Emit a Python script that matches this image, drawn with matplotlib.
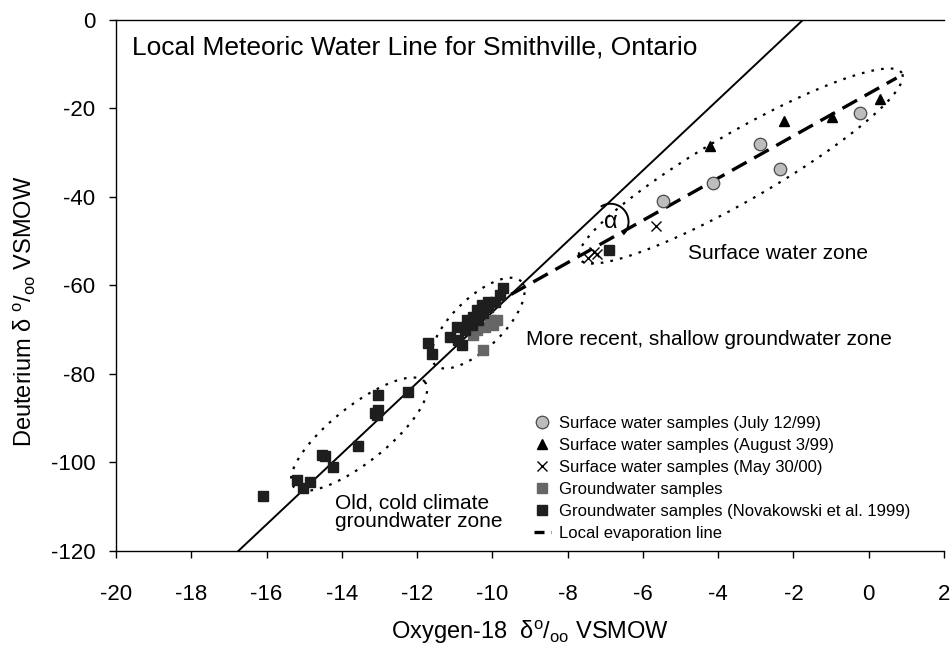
import numpy as np
import matplotlib
matplotlib.use("Agg")
from matplotlib import pyplot as plt

plt.rcParams['font.family'] = ['Liberation Sans', 'DejaVu Sans']
plt.rcParams['mathtext.fontset'] = 'custom'
plt.rcParams['mathtext.rm'] = 'Liberation Sans'
plt.rcParams['mathtext.it'] = 'Liberation Sans'
plt.rcParams['axes.unicode_minus'] = False

# surface water samples (July 12/99)
july_o18 = [-5.47, -4.14, -2.90, -2.36, -0.24]
july_d = [-40.9, -36.8, -28.0, -33.7, -21.0]

# surface water samples (August 3/99)
aug_o18 = [-4.22, -2.26, -0.98, 0.29]
aug_d = [-28.5, -22.8, -21.9, -17.9]

# surface water samples (May 30/00)
may_o18 = [-5.66, -7.22, -7.46, -7.30]
may_d = [-46.5, -52.8, -53.8, -52.4]

# groundwater samples
gw_o18 = [-10.07, -9.88, -10.20, -10.41, -10.52, -10.25, -9.99]
gw_d = [-67.8, -67.8, -69.4, -70.1, -71.2, -74.6, -68.9]

# groundwater samples (Novakowski et al. 1999)
nov_o18 = [-9.72, -9.80, -9.93, -10.12, -10.28, -10.41, -10.25, -10.52, -10.68,
           -10.54, -10.94, -10.73, -11.13, -10.92, -10.81, -11.71, -11.61, -10.12,
           -10.39, -6.90,
           -13.04, -12.24, -13.12, -13.04, -13.07, -13.57, -14.53, -14.45, -14.24,
           -15.19, -14.85, -15.03, -16.10]
nov_d = [-60.6, -62.1, -63.7, -63.7, -64.4, -65.5, -66.2, -67.1, -67.8,
         -68.9, -69.4, -70.1, -71.6, -72.3, -73.4, -73.0, -75.5, -64.9,
         -67.8, -52.0,
         -84.7, -84.1, -88.8, -88.1, -89.3, -96.3, -98.3, -98.6, -101.0,
         -104.0, -104.4, -105.8, -107.6]

# local meteoric water line (dD = slope * d18O + intercept)
lmwl_slope = 8.0
lmwl_intercept = 14.0
lmwl_o18 = [-18.0, 0.0]

# local evaporation line
lel_o18 = [-9.5, 0.74]
lel_d = [-62.0, -13.1]

# dotted zones: centre (o18, dD), semi axes in px, angle deg
zones = [((-3.40, -33.0), 186, 34, 30),
         ((-10.38, -68.5), 60, 25, 44),
         ((-13.54, -93.6), 84, 28, 38.5)]

fig = plt.figure(figsize=(9.53, 6.5), dpi=100)
ax = fig.add_axes([116 / 953, 99 / 650, 828 / 953, 531 / 650])
ax.set_xlim(-20, 2)
ax.set_ylim(-120, 0)
ax.set_xticks(np.arange(-20, 3, 2))
ax.set_yticks(np.arange(-120, 1, 20))
ax.tick_params(direction='out', length=5, width=1, labelsize=16)
ax.tick_params(axis='x', pad=19)
ax.tick_params(axis='y', pad=10)
ax.spines['right'].set_visible(False)
for s in ['left', 'bottom', 'top']:
    ax.spines[s].set_linewidth(1.0)

# px -> data helper for the hand drawn shapes
def px_to_data(cx, cy, dx, dy):
    c = ax.transData.transform((cx, cy))
    pts = np.column_stack([c[0] + dx, c[1] + dy])
    return ax.transData.inverted().transform(pts)

t = np.linspace(0, 2 * np.pi, 300)
for (cx, cy), a, b, ang in zones:
    th = np.radians(ang)
    dx = a * np.cos(t) * np.cos(th) - b * np.sin(t) * np.sin(th)
    dy = a * np.cos(t) * np.sin(th) + b * np.sin(t) * np.cos(th)
    p = px_to_data(cx, cy, dx, dy)
    ax.plot(p[:, 0], p[:, 1], color='black', lw=1.6, linestyle=(0, (1.2, 3.2)))

xx = np.array(lmwl_o18)
ax.plot(xx, lmwl_slope * xx + lmwl_intercept, color='black', lw=1.4)
ax.plot(lel_o18, lel_d, color='black', lw=2.4, dashes=(5, 2.6))

# alpha angle arc
ta = np.radians(np.linspace(-42, 120, 60))
p = px_to_data(-6.86, -45.6, 18 * np.cos(ta), 18 * np.sin(ta))
ax.plot(p[:, 0], p[:, 1], color='black', lw=1.4)
ax.text(-6.86, -45.6, u'\u03b1', fontsize=17, ha='center', va='center')

ax.plot(july_o18, july_d, 'o', ms=9, mfc='#bdbdbd', mec='#4a4a4a', mew=0.9,
        label='Surface water samples (July 12/99)')
ax.plot(aug_o18, aug_d, '^', ms=7, color='black',
        label='Surface water samples (August 3/99)')
ax.plot(may_o18, may_d, 'x', ms=7, mew=1.0, color='black',
        label='Surface water samples (May 30/00)')
ax.plot(gw_o18, gw_d, 's', ms=7, color='#666666', mec='#666666',
        label='Groundwater samples')
ax.plot(nov_o18, nov_d, 's', ms=7, color='#1e1e1e',
        label='Groundwater samples (Novakowski et al. 1999)')
ax.plot([], [], color='black', lw=2.4, dashes=(3, 2), label='Local evaporation line')

ax.legend(loc='upper left', bbox_to_anchor=(534 / 953, 1 - 416 / 650),
          bbox_transform=fig.transFigure, frameon=False, fontsize=12,
          handlelength=1.0, handletextpad=0.5, borderpad=0, borderaxespad=0,
          labelspacing=0.42)

ax.text(-19.57, -7.7, 'Local Meteoric Water Line for Smithville, Ontario', fontsize=19,
        va='baseline')
ax.text(-4.80, -52.7, 'Surface water zone', fontsize=15, va='center')
ax.text(-9.11, -72.1, 'More recent, shallow groundwater zone', fontsize=15, va='center')
ax.text(-14.18, -111.2, 'Old, cold climate\ngroundwater zone', fontsize=15, va='center',
        linespacing=0.95)

ax.set_xlabel(u'Oxygen-18  \u03b4$^{o}$/$_{oo}$ VSMOW', fontsize=17, labelpad=10)
fig.text(25 / 953, 1 - 311 / 650, u'Deuterium \u03b4 $^{o}$/$_{oo}$ VSMOW', fontsize=17,
         rotation=90, ha='center', va='center')

fig.savefig('out.png', dpi=100)
